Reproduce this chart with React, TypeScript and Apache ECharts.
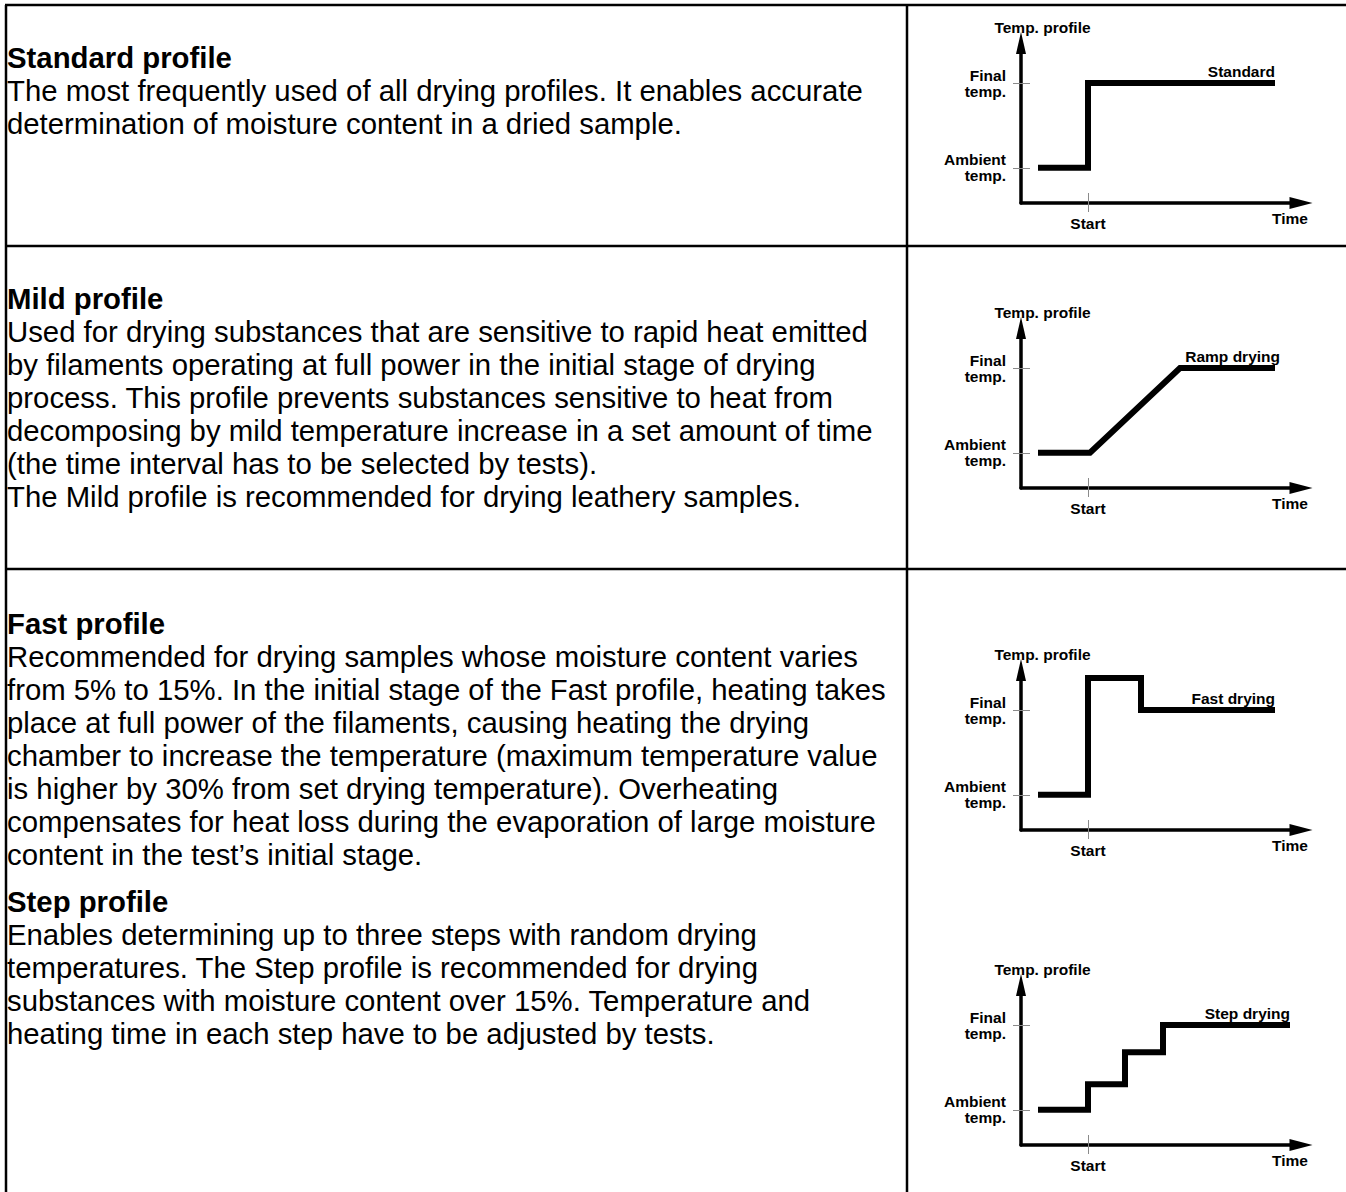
import React, { useEffect, useRef } from "react";
import * as echarts from "echarts";

// ---------- data ----------
const TIME_MAX = 28;
const TEMP_MAX = 100;
const AMBIENT = 22;
const FINAL = 75;
const START = 6.7;

const yTickValues = [AMBIENT, FINAL];
const yTickLabels = ["Ambient\ntemp.", "Final\ntemp."];
const xTickValues = [START];
const xTickLabels = ["Start"];
const yAxisName = "Temp. profile";
const xAxisName = "Time";

const profileNames = ["Standard", "Ramp drying", "Fast drying", "Step drying"];

const standardTime = [1.7, 6.7, 6.7, 25.4];
const standardTemp = [22, 22, 75, 75];

const rampTime = [1.7, 6.9, 15.9, 25.4];
const rampTemp = [22, 22, 75, 75];

const fastTime = [1.7, 6.7, 6.7, 12.0, 12.0, 25.4];
const fastTemp = [22, 22, 95, 95, 75, 75];

const stepTime = [1.7, 6.7, 6.7, 10.4, 10.4, 14.2, 14.2, 26.9];
const stepTemp = [22, 22, 38, 38, 58, 58, 75, 75];

const profileTimes = [standardTime, rampTime, fastTime, stepTime];
const profileTemps = [standardTemp, rampTemp, fastTemp, stepTemp];

const headings = ["Standard profile", "Mild profile", "Fast profile", "Step profile"];

const bodyStandard = [
  "The most frequently used of all drying profiles. It enables accurate",
  "determination of moisture content in a dried sample.",
];
const bodyMild = [
  "Used for drying substances that are sensitive to rapid heat emitted",
  "by filaments operating at full power in the initial stage of drying",
  "process. This profile prevents substances sensitive to heat from",
  "decomposing by mild temperature increase in a set amount of time",
  "(the time interval has to be selected by tests).",
  "The Mild profile is recommended for drying leathery samples.",
];
const bodyFast = [
  "Recommended for drying samples whose moisture content varies",
  "from 5% to 15%. In the initial stage of the Fast profile, heating takes",
  "place at full power of the filaments, causing heating the drying",
  "chamber to increase the temperature (maximum temperature value",
  "is higher by 30% from set drying temperature). Overheating",
  "compensates for heat loss during the evaporation of large moisture",
  "content in the test\u2019s initial stage.",
];
const bodyStep = [
  "Enables determining up to three steps with random drying",
  "temperatures. The Step profile is recommended for drying",
  "substances with moisture content over 15%. Temperature and",
  "heating time in each step have to be adjusted by tests.",
];
const bodies = [bodyStandard, bodyMild, bodyFast, bodyStep];

// ---------- layout ----------
const W = 1346;
const H = 1192;
const FONT = "'Liberation Sans', Arial, Helvetica, sans-serif";
const TEXT_SIZE = 29.33;
const LINE_H = 33;
const TEXT_X = 7;
const textTops = [41, 282, 607, 885];
const rowLinesY = [5, 246, 569];
const COL_X = 907;
const LEFT_X = 6;

const GRID_LEFT = 1021;
const GRID_W = 280;
const GRID_H = 160;
const axisYs = [203, 488, 830, 1145];
const labelDx = [0, 5, 0, 0];
const CHART_FS = 15.5;

function tickLabel(values: number[], labels: string[]) {
  return (v: number) => {
    let best = 0;
    for (let i = 0; i < values.length; i++) {
      if (Math.abs(values[i] - v) < Math.abs(values[best] - v)) best = i;
    }
    return labels[best];
  };
}

function buildOption() {
  const grid: any[] = [];
  const xAxis: any[] = [];
  const yAxis: any[] = [];
  const series: any[] = [];
  const chartText = { fontFamily: FONT, fontWeight: "bold", fontSize: CHART_FS, color: "#000" };
  const tickStyle = { color: "#8a8a8a", width: 1 };
  const axisLineStyle = { color: "#000", width: 3.5 };

  for (let k = 0; k < 4; k++) {
    grid.push({
      left: GRID_LEFT,
      top: axisYs[k] - GRID_H,
      width: GRID_W,
      height: GRID_H,
      containLabel: false,
      outerBoundsMode: "none",
    });
    xAxis.push({
      gridIndex: k,
      type: "value",
      min: 0,
      max: TIME_MAX,
      position: "bottom",
      name: xAxisName,
      nameLocation: "end",
      nameGap: 7,
      nameTextStyle: { ...chartText, align: "right", verticalAlign: "top", padding: [7, 0, 0, 0] },
      axisLine: {
        show: true,
        onZero: false,
        symbol: ["none", "triangle"],
        symbolSize: [12, 23],
        lineStyle: axisLineStyle,
      },
      axisTick: { show: true, customValues: xTickValues, length: 9, lineStyle: tickStyle },
      axisLabel: {
        show: true,
        customValues: xTickValues,
        formatter: tickLabel(xTickValues, xTickLabels),
        margin: 12,
        ...chartText,
      },
      splitLine: { show: false },
    });
    xAxis.push({
      gridIndex: k,
      type: "value",
      min: 0,
      max: TIME_MAX,
      position: "bottom",
      axisLine: { show: false, onZero: false },
      axisTick: { show: true, inside: true, customValues: xTickValues, length: 10, lineStyle: tickStyle },
      axisLabel: { show: false },
      splitLine: { show: false },
    });
    yAxis.push({
      gridIndex: k,
      type: "value",
      min: 0,
      max: TEMP_MAX,
      position: "left",
      name: yAxisName,
      nameLocation: "end",
      nameGap: 16,
      nameTextStyle: { ...chartText, align: "center", verticalAlign: "middle", padding: [0, 0, 0, 43] },
      axisLine: {
        show: true,
        onZero: false,
        symbol: ["none", "triangle"],
        symbolSize: [10, 22],
        lineStyle: axisLineStyle,
      },
      axisTick: { show: true, customValues: yTickValues, length: 8, lineStyle: tickStyle },
      axisLabel: {
        show: true,
        customValues: yTickValues,
        formatter: tickLabel(yTickValues, yTickLabels),
        margin: 15,
        lineHeight: 16,
        align: "right",
        padding: [6, 0, 0, 0],
        ...chartText,
      },
      splitLine: { show: false },
    });
    yAxis.push({
      gridIndex: k,
      type: "value",
      min: 0,
      max: TEMP_MAX,
      position: "left",
      axisLine: { show: false, onZero: false },
      axisTick: { show: true, inside: true, customValues: yTickValues, length: 9, lineStyle: tickStyle },
      axisLabel: { show: false },
      splitLine: { show: false },
    });

    const times = profileTimes[k];
    const temps = profileTemps[k];
    const last = times.length - 1;
    const name = profileNames[k];
    series.push({
      type: "line",
      name,
      xAxisIndex: k * 2,
      yAxisIndex: k * 2,
      symbol: "circle",
      symbolSize: 0,
      showSymbol: true,
      silent: true,
      clip: false,
      lineStyle: { color: "#000", width: 6, cap: "butt", join: "miter" },
      itemStyle: { color: "#000" },
      label: { show: false },
      data: times.map((t, i) =>
        i === last
          ? {
              value: [t, temps[i]],
              label: {
                show: true,
                formatter: name,
                position: "top",
                align: "right",
                distance: 4,
                offset: [labelDx[k], 0],
                ...chartText,
              },
            }
          : [t, temps[i]]
      ),
    });
  }

  const graphic: any[] = [];
  const border = { stroke: "#000", lineWidth: 2.5 };
  rowLinesY.forEach((y) => {
    graphic.push({ type: "line", shape: { x1: LEFT_X - 1, y1: y, x2: W, y2: y }, style: border, z: 10 });
  });
  graphic.push({ type: "line", shape: { x1: LEFT_X, y1: rowLinesY[0], x2: LEFT_X, y2: H }, style: border, z: 10 });
  graphic.push({ type: "line", shape: { x1: COL_X, y1: rowLinesY[0], x2: COL_X, y2: H }, style: border, z: 10 });

  for (let r = 0; r < 4; r++) {
    graphic.push({
      type: "text",
      x: TEXT_X,
      y: textTops[r],
      z: 10,
      style: {
        text: headings[r],
        fontFamily: FONT,
        fontWeight: "bold",
        fontSize: TEXT_SIZE,
        lineHeight: LINE_H,
        verticalAlign: "top",
        fill: "#000",
      },
    });
    graphic.push({
      type: "text",
      x: TEXT_X,
      y: textTops[r] + LINE_H,
      z: 10,
      style: {
        text: bodies[r].join("\n"),
        fontFamily: FONT,
        fontWeight: "normal",
        fontSize: TEXT_SIZE,
        lineHeight: LINE_H,
        verticalAlign: "top",
        fill: "#000",
      },
    });
  }

  return {
    animation: false,
    backgroundColor: "#ffffff",
    grid,
    xAxis,
    yAxis,
    series,
    graphic,
  };
}

export default function App() {
  const ref = useRef<HTMLDivElement>(null);
  useEffect(() => {
    if (!ref.current) return;
    const chart = echarts.init(ref.current, null, { renderer: "svg", width: W, height: H });
    chart.setOption(buildOption() as any);
    return () => chart.dispose();
  }, []);
  return (
    <div
      ref={ref}
      style={{ position: "absolute", left: 0, top: 0, width: W, height: H, background: "#fff" }}
    />
  );
}
